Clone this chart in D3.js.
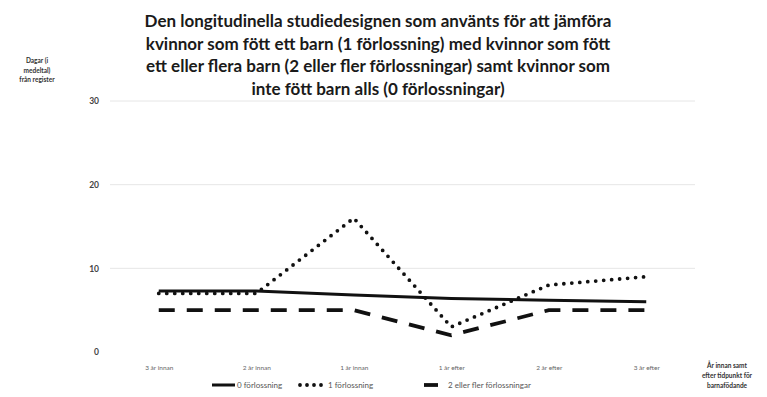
<!DOCTYPE html>
<html>
<head>
<meta charset="utf-8">
<script src="https://cdn.jsdelivr.net/npm/d3@7/dist/d3.min.js"></script>
<style>
  html, body { margin: 0; padding: 0; background: #fff; }
  svg { display: block; }
</style>
</head>
<body>
<svg id="chart" width="767" height="397"></svg>
<script>
// Time points relative to childbirth
const categories = ["3 år innan", "2 år innan", "1 år innan", "1 år efter", "2 år efter", "3 år efter"];
// Mean days from register per group
const noBirth = [7.3, 7.3, 6.8, 6.4, 6.2, 6.0];
const oneBirth = [7.0, 7.0, 16.0, 3.0, 8.0, 9.0];
const twoPlusBirths = [5.0, 5.0, 5.0, 2.0, 5.0, 5.0];
const seriesNames = ["0 förlossning", "1 förlossning", "2 eller fler förlossningar"];
const yTicks = [0, 10, 20, 30];
const titleLines = [
  "Den longitudinella studiedesignen som använts för att jämföra",
  "kvinnor som fött ett barn (1 förlossning) med kvinnor som fött",
  "ett eller flera barn (2 eller fler förlossningar) samt kvinnor som",
  "inte fött barn alls (0 förlossningar)"
];
const yTitleLines = ["Dagar (i", "medeltal)", "från register"];
const xTitleLines = ["År innan samt", "efter tidpunkt för", "barnafödande"];

const series = [
  { name: seriesNames[0], values: noBirth, dash: null, width: 3, cap: "butt" },
  { name: seriesNames[1], values: oneBirth, dash: "0,8", width: 3.8, cap: "round" },
  { name: seriesNames[2], values: twoPlusBirths, dash: "16,12", width: 3.8, cap: "butt" }
];

const svg = d3.select("#chart");
const font = "Lato, 'Open Sans', sans-serif";

const x = d3.scalePoint().domain(categories).range([110, 695]).padding(0.5);
const y = d3.scaleLinear().domain([0, 30]).range([352, 101]);

// Title
svg.append("g").selectAll("text").data(titleLines).join("text")
  .attr("x", 378).attr("y", (d, i) => 27 + i * 22.5)
  .attr("text-anchor", "middle")
  .attr("font-family", font).attr("font-weight", "bold").attr("font-size", 17)
  .attr("fill", "#1a1a1a").text(d => d);

// Gridlines
svg.append("g").selectAll("line").data(yTicks.filter(t => t > 0)).join("line")
  .attr("x1", 110).attr("x2", 695)
  .attr("y1", d => y(d)).attr("y2", d => y(d))
  .attr("stroke", "#e6e6e6").attr("stroke-width", 1);

// Y axis
const yAxis = svg.append("g").attr("transform", "translate(99,0)")
  .call(d3.axisLeft(y).tickValues(yTicks).tickSize(0).tickPadding(0));
yAxis.select(".domain").remove();
yAxis.selectAll("text").attr("font-family", font).attr("font-size", 8.5)
  .attr("font-weight", "bold").attr("fill", "#444");

// X axis
const xAxis = svg.append("g").attr("transform", "translate(0,362)")
  .call(d3.axisBottom(x).tickSize(0).tickPadding(3));
xAxis.select(".domain").remove();
xAxis.selectAll("text").attr("font-family", font).attr("font-size", 6.5).attr("fill", "#666");

// Axis titles
svg.append("g").selectAll("text").data(yTitleLines).join("text")
  .attr("x", 37).attr("y", (d, i) => 63 + i * 9.5)
  .attr("text-anchor", "middle")
  .attr("font-family", font).attr("font-weight", "bold").attr("font-size", 6.5)
  .attr("fill", "#333").text(d => d);

svg.append("g").selectAll("text").data(xTitleLines).join("text")
  .attr("x", 727).attr("y", (d, i) => 368 + i * 10)
  .attr("text-anchor", "middle")
  .attr("font-family", font).attr("font-weight", "bold").attr("font-size", 6.5)
  .attr("fill", "#333").text(d => d);

// Lines
const line = d3.line().x((d, i) => x(categories[i])).y(d => y(d));
svg.append("g").selectAll("path").data(series).join("path")
  .attr("d", d => line(d.values))
  .attr("fill", "none").attr("stroke", "#111")
  .attr("stroke-width", d => d.width)
  .attr("stroke-dasharray", d => d.dash)
  .attr("stroke-linecap", d => d.cap);

// Legend
const legendItems = [
  { s: series[0], x: 212, len: 23, dash: null, gap: 2 },
  { s: series[1], x: 300, len: 22, dash: "0,7", gap: 6 },
  { s: series[2], x: 424, len: 14, dash: null, gap: 10 }
];
const lg = svg.append("g").attr("transform", "translate(0,385)");
legendItems.forEach(item => {
  lg.append("line").attr("x1", item.x).attr("x2", item.x + item.len)
    .attr("y1", 0).attr("y2", 0)
    .attr("stroke", "#111").attr("stroke-width", item.s.width)
    .attr("stroke-dasharray", item.dash)
    .attr("stroke-linecap", item.s.cap);
  lg.append("text").attr("x", item.x + item.len + item.gap).attr("y", 2.5)
    .attr("font-family", font).attr("font-size", 8).attr("fill", "#555")
    .text(item.s.name);
});
</script>
</body>
</html>
